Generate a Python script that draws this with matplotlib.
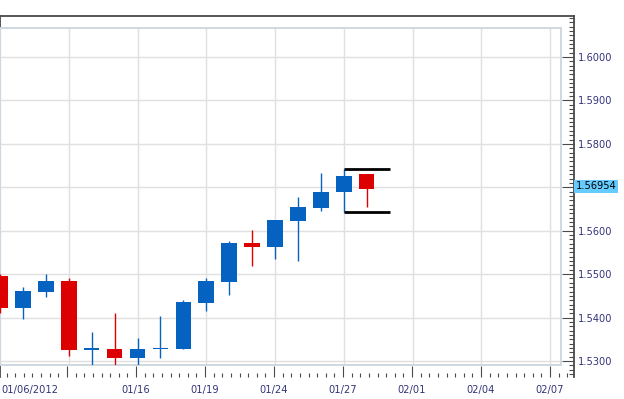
import matplotlib
matplotlib.use("Agg")
import matplotlib.pyplot as plt
import numpy as np
from matplotlib.ticker import FixedLocator, FixedFormatter, MultipleLocator
from matplotlib.transforms import offset_copy

# ---- data ----
dates = ['01/06', '01/09', '01/10', '01/11', '01/12', '01/13', '01/16', '01/17', '01/18',
         '01/19', '01/20', '01/23', '01/24', '01/25', '01/26', '01/27', '01/30']
opens = [1.5496, 1.5423, 1.5460, 1.5484, 1.5326, 1.5328, 1.5307, 1.5327, 1.5328,
         1.5434, 1.5483, 1.5572, 1.5563, 1.5623, 1.5653, 1.5688, 1.5731]
closes = [1.5423, 1.5461, 1.5484, 1.5325, 1.5328, 1.5307, 1.5328, 1.5329, 1.5436,
          1.5484, 1.5572, 1.5563, 1.5625, 1.5655, 1.5689, 1.5726, 1.56954]
highs = [1.5500, 1.5471, 1.5500, 1.5490, 1.5367, 1.5411, 1.5354, 1.5404, 1.5440,
         1.5492, 1.5577, 1.5602, 1.5625, 1.5678, 1.5733, 1.5741, 1.5731]
lows = [1.5410, 1.5397, 1.5448, 1.5312, 1.5290, 1.5290, 1.5291, 1.5307, 1.5327,
        1.5416, 1.5452, 1.5519, 1.5536, 1.5531, 1.5645, 1.5644, 1.5655]

x_tick_pos = [0, 3, 6, 9, 12, 15, 18, 21, 24]
x_tick_labels = ['01/06/2012', '', '01/16', '01/19', '01/24', '01/27', '02/01', '02/04', '02/07']
y_tick_vals = [1.53, 1.54, 1.55, 1.56, 1.57, 1.58, 1.59, 1.60]
y_tick_labels = ['1.5300', '1.5400', '1.5500', '1.5600', '', '1.5800', '1.5900', '1.6000']
last_price = 1.56954
bracket_candle = 15          # inside-bar mother candle
bracket_end = 17

UP = '#0562c0'
DOWN = '#dd0000'
TXT = '#33337a'
AXC = '#4a4a4a'
FS = 7.1

W, H, DPI = 624, 399, 100
fig = plt.figure(figsize=(W / DPI, H / DPI), dpi=DPI)
fig.patch.set_facecolor('white')

# pixel layout
p_left, p_right_in, p_right_out = 0, 561, 574
p_top_out, p_top_in, p_bot_in, p_bot_out = 16, 28, 365, 377

xlim1 = (0.087, 24.478)
ylim1 = (1.529079, 1.606675)
sx = (xlim1[1] - xlim1[0]) / (p_right_in - p_left)
sy = (ylim1[1] - ylim1[0]) / (p_bot_in - p_top_in)

# outer axes (ticks, labels, dark frame)
ax2 = fig.add_axes([p_left / W, (H - p_bot_out) / H, (p_right_out - p_left) / W,
                    (p_bot_out - p_top_out) / H])
ax2.set_xlim(xlim1[0], xlim1[0] + sx * (p_right_out - p_left))
ax2.set_ylim(ylim1[0] - sy * (p_bot_out - p_bot_in), ylim1[1] + sy * (p_top_in - p_top_out))
for s in ['top', 'right', 'left']:
    ax2.spines[s].set_color(AXC)
    ax2.spines[s].set_linewidth(1.3)
ax2.spines['bottom'].set_visible(False)
ax2.yaxis.tick_right()
ax2.yaxis.set_major_locator(FixedLocator(y_tick_vals))
ax2.yaxis.set_major_formatter(FixedFormatter(y_tick_labels))
ax2.yaxis.set_minor_locator(MultipleLocator(0.001))
ax2.xaxis.set_major_locator(FixedLocator(x_tick_pos))
ax2.xaxis.set_major_formatter(FixedFormatter(x_tick_labels))
ax2.xaxis.set_minor_locator(MultipleLocator(3 / 8))
ax2.tick_params(axis='y', which='major', direction='in', length=8.6, width=0.8, color=AXC,
                labelsize=FS, labelcolor=TXT, pad=2.5, right=True, left=False,
                labelright=True, labelleft=False)
ax2.tick_params(axis='y', which='minor', direction='in', length=3.6, width=0.8, color=AXC,
                right=True, left=False)
ax2.tick_params(axis='x', which='major', direction='in', length=8.0, width=0.8, color=AXC,
                labelsize=FS, labelcolor=TXT, pad=6, top=False)
ax2.tick_params(axis='x', which='minor', direction='in', length=3.0, width=0.8, color=AXC,
                top=False)

# first date label: its tick sits just left of the visible range, so pin it to the left edge
first_lbl = ax2.text(ax2.get_xlim()[0], 0, x_tick_labels[0],
                     transform=offset_copy(ax2.get_xaxis_transform(), fig=fig, x=1, y=-6.0,
                                           units='points'),
                     ha='left', va='top', fontsize=FS, color=TXT, clip_on=False)

price_tr = offset_copy(ax2.get_yaxis_transform(), fig=fig, x=1.2, y=2.0, units='points')
ax2.text(1.0, last_price, f'{last_price:.5f}', transform=price_tr,
         ha='left', va='center', fontsize=FS, color='black',
         bbox=dict(boxstyle='square,pad=0.2', facecolor='#66ccff', edgecolor='none'))

# inner plot area
ax = fig.add_axes([p_left / W, (H - p_bot_in) / H, (p_right_in - p_left) / W,
                   (p_bot_in - p_top_in) / H])
ax.set_zorder(ax2.get_zorder() + 1)
ax.set_xlim(*xlim1)
ax.set_ylim(*ylim1)
ax.set_xticks(x_tick_pos)
ax.set_yticks(y_tick_vals)
ax.grid(True, color='#e0e0e0', linewidth=1.0)
ax.set_axisbelow(True)
ax.tick_params(length=0, labelbottom=False, labelleft=False)
for s in ax.spines.values():
    s.set_color('#cfd7e0')
    s.set_linewidth(1.4)

x = np.arange(len(dates))
o = np.array(opens); c = np.array(closes)
colors = [UP if cc >= oo else DOWN for oo, cc in zip(o, c)]
ax.vlines(x, lows, highs, colors=colors, linewidth=1.0, zorder=3)
body_lo = np.minimum(o, c)
body_h = np.maximum(np.abs(c - o), 0.0003)
ax.bar(x, body_h, bottom=body_lo, width=0.68, color=colors, linewidth=0, zorder=4)

# inside-bar bracket lines
ax.hlines([highs[bracket_candle], lows[bracket_candle]], bracket_candle, bracket_end,
          colors='black', linewidth=2.0, zorder=5)

fig.savefig('out.png', dpi=DPI)
